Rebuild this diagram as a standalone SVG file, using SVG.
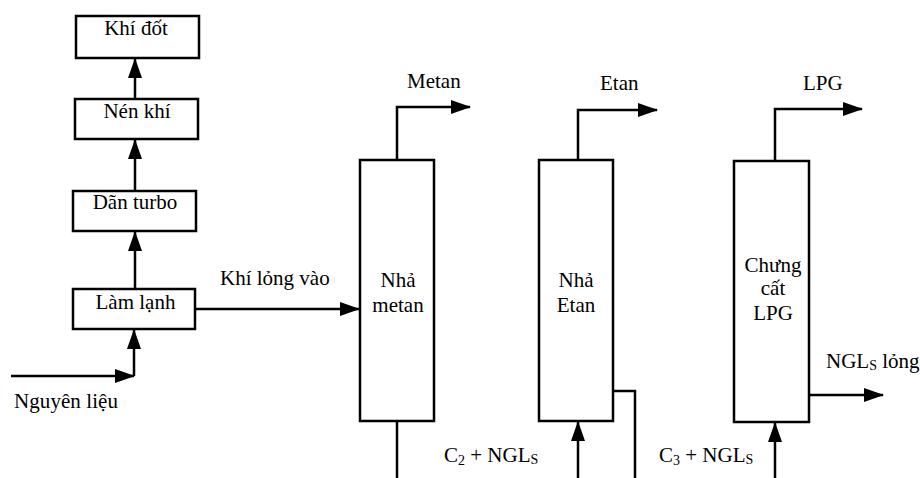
<svg xmlns="http://www.w3.org/2000/svg" width="920" height="478" viewBox="0 0 920 478">
<style>
  .box { fill: #fff; stroke: #000; stroke-width: 2.5; }
  .ln { fill: none; stroke: #000; stroke-width: 2.5; }
  .ar { marker-end: url(#ah); }
  .t { font-family: 'Liberation Serif', 'DejaVu Serif', serif; font-size: 21px; fill: #000; }
  .c { text-anchor: middle; }
  .sub { font-size: 14px; }
</style>
<defs>
  <marker id="ah" markerUnits="userSpaceOnUse" markerWidth="20" markerHeight="14" viewBox="0 0 20 14" refX="19" refY="7" orient="auto">
    <path d="M0,0 L20,7 L0,14 Z" fill="#000"/>
  </marker>
</defs>
<rect width="920" height="478" fill="#fff"/>

<g id="connectors">
  <path class="ln ar" d="M135,139 V59"/>
  <path class="ln ar" d="M135,191 V140"/>
  <path class="ln ar" d="M135,289 V232"/>
  <path class="ln ar" d="M11,376 H134"/>
  <path class="ln ar" d="M134,376 V330"/>
  <path class="ln ar" d="M195,309 H359"/>
  <path class="ln ar" d="M397,160 V107 H470"/>
  <path class="ln" d="M397,421 V478"/>
  <path class="ln ar" d="M578,160 V110 H657"/>
  <path class="ln ar" d="M578,478 V422"/>
  <path class="ln" d="M613,391 H635 V478"/>
  <path class="ln ar" d="M775,161 V109 H862"/>
  <path class="ln ar" d="M775,478 V423"/>
  <path class="ln ar" d="M809,395 H883"/>
</g>

<g id="khi-dot">
  <rect class="box" x="76" y="16" width="123" height="42"/>
  <text class="t c" font-family="Liberation Serif, serif" x="136" y="35">Khí đốt</text>
</g>
<g id="nen-khi">
  <rect class="box" x="75" y="99" width="123" height="40"/>
  <text class="t c" font-family="Liberation Serif, serif" x="137" y="118">Nén khí</text>
</g>
<g id="dan-turbo">
  <rect class="box" x="73" y="191" width="123" height="40"/>
  <text class="t c" font-family="Liberation Serif, serif" x="135" y="209">Dãn turbo</text>
</g>
<g id="lam-lanh">
  <rect class="box" x="73" y="289" width="122" height="40"/>
  <text class="t c" font-family="Liberation Serif, serif" x="135.5" y="309">Làm lạnh</text>
</g>
<g id="nha-metan">
  <rect class="box" x="360" y="160" width="74" height="261"/>
  <text class="t c" font-family="Liberation Serif, serif" x="398" y="287">Nhả</text>
  <text class="t c" font-family="Liberation Serif, serif" x="398" y="312">metan</text>
</g>
<g id="nha-etan">
  <rect class="box" x="539" y="160" width="74" height="261"/>
  <text class="t c" font-family="Liberation Serif, serif" x="576" y="287">Nhả</text>
  <text class="t c" font-family="Liberation Serif, serif" x="576" y="312">Etan</text>
</g>
<g id="chung-cat-lpg">
  <rect class="box" x="734" y="161" width="75" height="261"/>
  <text class="t c" font-family="Liberation Serif, serif" x="773" y="272">Chưng</text>
  <text class="t c" font-family="Liberation Serif, serif" x="773" y="295">cất</text>
  <text class="t c" font-family="Liberation Serif, serif" x="773" y="320">LPG</text>
</g>

<g id="labels">
  <text class="t" font-family="Liberation Serif, serif" x="14" y="408" textLength="104" lengthAdjust="spacing">Nguyên liệu</text>
  <text class="t" font-family="Liberation Serif, serif" x="220" y="285">Khí lỏng vào</text>
  <text class="t" font-family="Liberation Serif, serif" x="407" y="88">Metan</text>
  <text class="t" font-family="Liberation Serif, serif" x="600" y="90">Etan</text>
  <text class="t" font-family="Liberation Serif, serif" x="803" y="90">LPG</text>
  <text class="t" font-family="Liberation Serif, serif" x="826" y="368">NGL<tspan class="sub" dy="2">S</tspan><tspan dy="-2"> lỏng</tspan></text>
  <text class="t" font-family="Liberation Serif, serif" x="444" y="462">C<tspan class="sub" dy="3">2</tspan><tspan dy="-3"> + NGL</tspan><tspan class="sub" dy="2">S</tspan></text>
  <text class="t" font-family="Liberation Serif, serif" x="659" y="462">C<tspan class="sub" dy="3">3</tspan><tspan dy="-3"> + NGL</tspan><tspan class="sub" dy="2">S</tspan></text>
</g>
</svg>
